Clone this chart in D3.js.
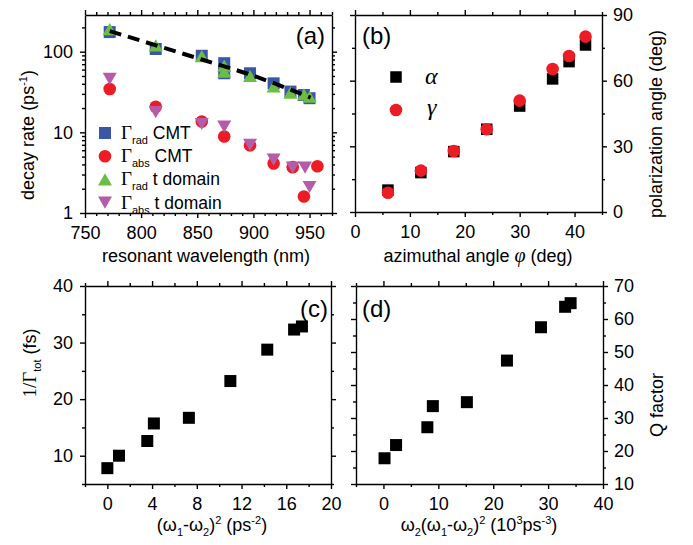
<!DOCTYPE html>
<html><head><meta charset="utf-8">
<script src="https://cdn.jsdelivr.net/npm/d3@7"></script>
<style>
body{margin:0;background:#fff;}
svg{display:block;font-family:"Liberation Sans",Arial,sans-serif;}
.axis path,.axis line{stroke:#000;stroke-width:1.4;}
.axis text{font-size:18px;fill:#000;font-family:"Liberation Sans",Arial,sans-serif;}
.lbl{font-size:18px;fill:#000;}
.serif{font-family:"Liberation Serif","Times New Roman",serif;}
</style></head><body><svg id="c" width="693" height="545"></svg>
<script>
// ---------- data ----------
// panel (a)
const radWl    = [772, 813, 854, 874, 874, 897, 918, 933, 945, 950];
const radCmt   = [175, 108, 89, 72, 54, 54, 40.5, 32, 29, 26.5];
const radTd    = [190, 120, 88, 67, 56.5, 50, 37, 31, 29.5, 27.7];
const absCmtWl = [772, 813, 854, 874, 897, 918, 935, 945, 957];
const absCmt   = [34.5, 20.8, 13.6, 8.9, 6.9, 4.1, 3.7, 1.6, 3.8];
const absTdWl  = [772, 813, 854, 874, 897, 918, 935, 946, 950];
const absTd    = [46, 17.8, 12.7, 11.8, 7.0, 4.6, 3.65, 3.65, 2.1];
const fitWl    = [772, 854, 897, 951];
const fitRate  = [180, 80, 52, 27];
const aXTicks  = [750, 800, 850, 900, 950];
const aYTicks  = [1, 10, 100];
// panel (b)
const phi   = [6, 12, 18, 24, 30, 36, 39, 42];
const alpha = [10.0, 18, 27.6, 37.8, 48.4, 60.8, 68.7, 76.3];
const gamma = [8.8, 18.9, 27.9, 37.8, 50.9, 65.3, 71.3, 80.1];
const bXTicks = [0, 10, 20, 30, 40];
const bYTicks = [0, 30, 60, 90];
// panel (c)
const cX = [0, 1.04, 3.57, 4.16, 7.29, 11.0, 14.3, 16.7, 17.4];
const cY = [7.8, 10, 12.6, 15.7, 16.7, 23.2, 28.75, 32.3, 32.85];
const cXTicks = [0, 4, 8, 12, 16, 20];
const cYTicks = [10, 20, 30, 40];
// panel (d)
const dX = [0.2, 2.3, 8.0, 9.0, 15.2, 22.5, 28.7, 33.1, 34.1];
const dY = [17.8, 21.8, 27.2, 33.6, 34.8, 47.4, 57.5, 63.7, 64.8];
const dXTicks = [0, 10, 20, 30, 40];
const dYTicks = [10, 20, 30, 40, 50, 60, 70];

// ---------- colours ----------
const BLUE="#3b56a6", RED="#ec1c24", GREEN="#6cbd45", PURPLE="#b65ba7";

const svg = d3.select("#c");

function axes(P, x, y, o){
  const g = svg.append("g");
  const defs = [
    [d3.axisBottom, `translate(0,${P.y1})`, x, o.xMaj, o.xMin, true, 8],
    [d3.axisTop, `translate(0,${P.y0})`, x, o.xMaj, o.xMin, false, 4],
    [d3.axisLeft, `translate(${P.x0},0)`, y, o.yMaj, o.yMin, o.yLab==="left", 7],
    [d3.axisRight, `translate(${P.x1},0)`, y, o.yMaj, o.yMin, o.yLab==="right", 6]
  ];
  defs.forEach(([mk, tr, sc, maj, mn, lab, pad])=>{
    g.append("g").attr("class","axis").attr("transform",tr)
      .call(mk(sc).tickValues(maj).tickSize(5).tickSizeOuter(0).tickPadding(pad)
        .tickFormat(lab ? d3.format("d") : ""));
    const gm = g.append("g").attr("class","axis").attr("transform",tr)
      .call(mk(sc).tickValues(mn).tickSize(3).tickSizeOuter(0).tickFormat(""));
    gm.select(".domain").remove();
  });
}

function square(g, x, y, s, c){ g.append("rect").attr("x",x-s/2).attr("y",y-s/2).attr("width",s).attr("height",s).attr("fill",c); }
function circle(g, x, y, r, c){ g.append("circle").attr("cx",x).attr("cy",y).attr("r",r).attr("fill",c); }
function tri(g, x, y, s, c, down){
  const h = s*0.87, k = down?-1:1;
  g.append("path").attr("d",`M${x-s/2},${y+k*h/2}L${x+s/2},${y+k*h/2}L${x},${y-k*h/2}Z`).attr("fill",c);
}

// ---------- panel (a) ----------
{
  const P={x0:85,x1:332,y0:15,y1:213};
  const x=d3.scaleLinear().domain([750,970]).range([P.x0,P.x1]);
  const y=d3.scaleLog().domain([1,285]).range([P.y1,P.y0]);
  const yMin=[]; [1,10,100].forEach(d=>{for(let k=2;k<=9;k++){ if(d*k<=285) yMin.push(d*k);} });
  const xMin=d3.range(760,971,10).filter(v=>v%50!==0);
  axes(P,x,y,{xMaj:aXTicks,xMin,yMaj:aYTicks,yMin,yLab:"left"});
  const g=svg.append("g");
  radWl.forEach((w,i)=>square(g,x(w),y(radCmt[i]),12,BLUE));
  radWl.forEach((w,i)=>tri(g,x(w),y(radTd[i]),14,GREEN,false));
  absCmtWl.forEach((w,i)=>circle(g,x(w),y(absCmt[i]),6.3,RED));
  absTdWl.forEach((w,i)=>tri(g,x(w),y(absTd[i]),14,PURPLE,true));
  g.append("path").attr("d",d3.line().x((d,i)=>x(fitWl[i])).y((d,i)=>y(fitRate[i])).curve(d3.curveMonotoneX)(fitWl))
    .attr("fill","none").attr("stroke","#000").attr("stroke-width",4).attr("stroke-dasharray","12,7");
  // legend
  const leg=[["rad","CMT",BLUE,"sq"],["abs","CMT",RED,"ci"],["rad","t domain",GREEN,"up"],["abs","t domain",PURPLE,"dn"]];
  leg.forEach((L,i)=>{
    const ly=133+i*23.2, lx=105;
    if(L[3]==="sq") square(g,lx,ly,12,L[2]);
    if(L[3]==="ci") circle(g,lx,ly,6.3,L[2]);
    if(L[3]==="up") tri(g,lx,ly,14,L[2],false);
    if(L[3]==="dn") tri(g,lx,ly,14,L[2],true);
    const t=g.append("text").attr("x",121).attr("y",ly+6).attr("class","lbl");
    t.append("tspan").attr("class","serif").attr("font-size",19).text("Γ");
    t.append("tspan").attr("font-size",11).attr("dy",5).text(L[0]);
    t.append("tspan").attr("font-size",17.5).attr("dy",-5).text(" "+L[1]);
  });
  svg.append("text").attr("x",325).attr("y",44).attr("text-anchor","end").attr("font-size",24).text("(a)");
  svg.append("text").attr("x",206).attr("y",262).attr("text-anchor","middle").attr("class","lbl").text("resonant wavelength (nm)");
  const yl=svg.append("text").attr("transform","translate(34,135) rotate(-90)").attr("text-anchor","middle").attr("class","lbl");
  yl.append("tspan").text("decay rate (ps");
  yl.append("tspan").attr("font-size",11).attr("dy",-7).text("-1");
  yl.append("tspan").attr("dy",7).text(")");
}

// ---------- panel (b) ----------
{
  const P={x0:355,x1:602,y0:15,y1:212};
  const x=d3.scaleLinear().domain([0,45]).range([P.x0,P.x1]);
  const y=d3.scaleLinear().domain([0,90]).range([P.y1,P.y0]);
  axes(P,x,y,{xMaj:bXTicks,xMin:[5,15,25,35,45],yMaj:bYTicks,yMin:[15,45,75],yLab:"right"});
  const g=svg.append("g");
  phi.forEach((p,i)=>square(g,x(p),y(alpha[i]),11.5,"#000"));
  phi.forEach((p,i)=>circle(g,x(p),y(gamma[i]),6.3,RED));
  square(g,396,77,11.5,"#000");
  circle(g,396,110,6.3,RED);
  g.append("text").attr("x",425).attr("y",84).attr("class","serif").attr("font-style","italic").attr("font-size",24).text("α");
  g.append("text").attr("x",427).attr("y",115).attr("class","serif").attr("font-style","italic").attr("font-size",24).text("γ");
  svg.append("text").attr("x",362).attr("y",44).attr("font-size",24).text("(b)");
  const xl=svg.append("text").attr("x",478).attr("y",262).attr("text-anchor","middle").attr("class","lbl");
  xl.append("tspan").text("azimuthal angle ");
  xl.append("tspan").attr("class","serif").attr("font-style","italic").attr("font-size",20).text("φ");
  xl.append("tspan").text(" (deg)");
  svg.append("text").attr("transform","translate(662,124) rotate(-90)").attr("text-anchor","middle").attr("class","lbl").text("polarization angle (deg)");
}

// ---------- panel (c) ----------
{
  const P={x0:85,x1:331,y0:286,y1:484};
  const x=d3.scaleLinear().domain([-2,20]).range([P.x0,P.x1]);
  const y=d3.scaleLinear().domain([5,40]).range([P.y1,P.y0]);
  axes(P,x,y,{xMaj:cXTicks,xMin:[-2,2,6,10,14,18],yMaj:cYTicks,yMin:[5,15,25,35],yLab:"left"});
  const g=svg.append("g");
  cX.forEach((v,i)=>square(g,x(v),y(cY[i]),12,"#000"));
  svg.append("text").attr("x",328).attr("y",317).attr("text-anchor","end").attr("font-size",24).text("(c)");
  const xl=svg.append("text").attr("x",212).attr("y",531).attr("text-anchor","middle").attr("class","lbl");
  xl.append("tspan").text("(ω");
  xl.append("tspan").attr("font-size",11).attr("dy",5).text("1");
  xl.append("tspan").attr("dy",-5).text("-ω");
  xl.append("tspan").attr("font-size",11).attr("dy",5).text("2");
  xl.append("tspan").attr("dy",-5).text(")");
  xl.append("tspan").attr("font-size",11).attr("dy",-7).text("2");
  xl.append("tspan").attr("dy",7).text(" (ps");
  xl.append("tspan").attr("font-size",11).attr("dy",-7).text("-2");
  xl.append("tspan").attr("dy",7).text(")");
  const yl=svg.append("text").attr("transform","translate(36,363) rotate(-90)").attr("text-anchor","middle").attr("class","lbl");
  yl.append("tspan").attr("class","serif").attr("font-size",19).text("1/Γ");
  yl.append("tspan").attr("font-size",11).attr("dy",5).text("tot");
  yl.append("tspan").attr("dy",-5).text(" (fs)");
}

// ---------- panel (d) ----------
{
  const P={x0:356,x1:603,y0:286,y1:484};
  const x=d3.scaleLinear().domain([-5,40]).range([P.x0,P.x1]);
  const y=d3.scaleLinear().domain([10,70]).range([P.y1,P.y0]);
  axes(P,x,y,{xMaj:dXTicks,xMin:[-5,5,15,25,35],yMaj:dYTicks,yMin:[15,25,35,45,55,65],yLab:"right"});
  const g=svg.append("g");
  dX.forEach((v,i)=>square(g,x(v),y(dY[i]),12,"#000"));
  svg.append("text").attr("x",362).attr("y",317).attr("font-size",24).text("(d)");
  const xl=svg.append("text").attr("x",479).attr("y",531).attr("text-anchor","middle").attr("class","lbl");
  xl.append("tspan").text("ω");
  xl.append("tspan").attr("font-size",11).attr("dy",5).text("2");
  xl.append("tspan").attr("dy",-5).text("(ω");
  xl.append("tspan").attr("font-size",11).attr("dy",5).text("1");
  xl.append("tspan").attr("dy",-5).text("-ω");
  xl.append("tspan").attr("font-size",11).attr("dy",5).text("2");
  xl.append("tspan").attr("dy",-5).text(")");
  xl.append("tspan").attr("font-size",11).attr("dy",-7).text("2");
  xl.append("tspan").attr("dy",7).text(" (10");
  xl.append("tspan").attr("font-size",11).attr("dy",-7).text("3");
  xl.append("tspan").attr("dy",7).text("ps");
  xl.append("tspan").attr("font-size",11).attr("dy",-7).text("-3");
  xl.append("tspan").attr("dy",7).text(")");
  svg.append("text").attr("transform","translate(663,405) rotate(-90)").attr("text-anchor","middle").attr("class","lbl").text("Q factor");
}
</script></body></html>
